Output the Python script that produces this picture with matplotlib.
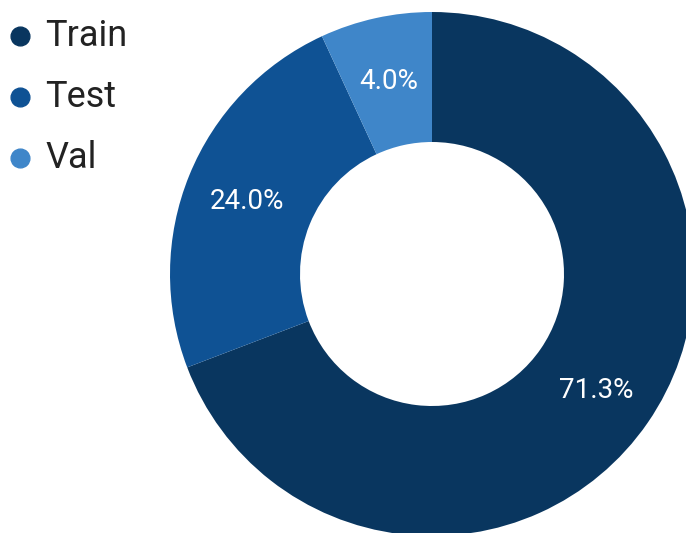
import matplotlib
matplotlib.use("Agg")
import matplotlib.pyplot as plt
import numpy as np
from matplotlib.lines import Line2D

categories = ["Train", "Test", "Val"]
shares = [69.2, 23.9, 6.9]           # slice sizes
label_texts = ["71.3%", "24.0%", "4.0%"]  # labels as printed on the slices
colors = ["#09365f", "#0f5294", "#3f86c9"]

plt.rcParams['font.family'] = ['Roboto', 'DejaVu Sans']

W, H = 686, 533
fig = plt.figure(figsize=(W / 100, H / 100), dpi=100)

cx, cy, R = 432, 274, 262
ax = fig.add_axes([(cx - R) / W, (H - cy - R) / H, 2 * R / W, 2 * R / H])

inner = 132 / R
wedges, _ = ax.pie(shares, colors=colors, startangle=90, counterclock=False,
                   radius=1, wedgeprops=dict(width=1 - inner, linewidth=0))
ax.set_xlim(-1, 1)
ax.set_ylim(-1, 1)
ax.set_aspect('equal')
ax.axis('off')
for w in wedges:
    w.set_clip_on(False)

lab_r = 200 / R
for w, t in zip(wedges, label_texts):
    ang = np.deg2rad((w.theta1 + w.theta2) / 2)
    ax.text(lab_r * np.cos(ang), lab_r * np.sin(ang) - 3 / R, t, color='white',
            fontsize=20, ha='center', va='center')

# legend
for i, (cat, col) in enumerate(zip(categories, colors)):
    y = 36 + i * 61
    fig.add_artist(Line2D([20 / W], [1 - y / H], marker='o', markersize=13.5,
                          color=col, linestyle='none', transform=fig.transFigure))
    fig.text(45 / W, 1 - y / H, cat, fontsize=26, color='#222222',
             ha='left', va='center')

fig.savefig("out.png", dpi=100)
